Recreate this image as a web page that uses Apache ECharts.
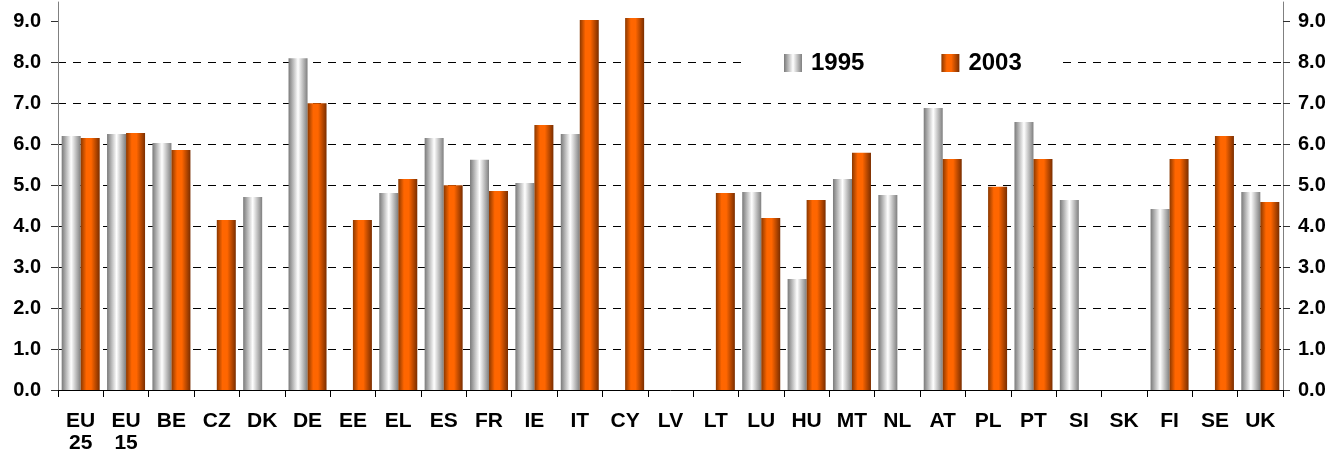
<!DOCTYPE html>
<html>
<head>
<meta charset="utf-8">
<script src="https://cdn.jsdelivr.net/npm/echarts@6/dist/echarts.min.js"></script>
<style>
html,body{margin:0;padding:0;background:#fff;}
#chart{width:1343px;height:455px;}
</style>
</head>
<body>
<div id="chart"></div>
<script>
const categories = ['EU\n25','EU\n15','BE','CZ','DK','DE','EE','EL','ES','FR','IE','IT','CY','LV','LT','LU','HU','MT','NL','AT','PL','PT','SI','SK','FI','SE','UK'];
const values1995 = [6.20,6.25,6.03,null,4.71,8.10,null,4.81,6.15,5.62,5.05,6.25,null,null,null,4.83,2.71,5.15,4.76,6.88,null,6.54,4.64,null,4.42,null,4.83];
const values2003 = [6.15,6.27,5.86,4.15,null,7.00,4.15,5.15,5.00,4.86,6.47,9.03,9.08,null,4.81,4.20,4.64,5.79,null,5.64,4.96,5.64,null,null,5.64,6.20,4.59];
const yTicks = [0,1,2,3,4,5,6,7,8,9];

const grayGrad = new echarts.graphic.LinearGradient(0,0,1,0,[
  {offset:0,color:'#7a7a7a'},{offset:0.5,color:'#ffffff'},{offset:1,color:'#7f7f7f'}]);
const orangeGrad = new echarts.graphic.LinearGradient(0,0,1,0,[
  {offset:0,color:'#8a3800'},{offset:0.3,color:'#ff6600'},{offset:0.55,color:'#ff6600'},{offset:1,color:'#7a2e00'}]);

const font = '"Liberation Sans", Arial, sans-serif';
const yMax = 9.47;
function yAxisCfg(pos, showSplit){
  return {
    type:'value', position:pos, min:0, max:yMax, interval:1,
    axisLine:{show:true, lineStyle:{color:'#808080', width:1}},
    axisTick:{show:true, length:7, customValues:yTicks, lineStyle:{color:'#303030'}},
    axisLabel:{customValues:yTicks, margin:pos==='left'?17:15, color:'#000', fontFamily:font, fontWeight:'bold', fontSize:20,
      formatter:v => Number.isInteger(v) ? v.toFixed(1) : ''},
    splitLine:{show:showSplit, showMaxLine:false, lineStyle:{color:'#000', type:[8,7], width:1}}
  };
}

const chart = echarts.init(document.getElementById('chart'), null, {renderer:'canvas'});
chart.setOption({
  animation:false,
  backgroundColor:'#fff',
  grid:{left:58, right:60, top:2, bottom:65, containLabel:false},
  legend:{
    left:742, top:46, orient:'horizontal', backgroundColor:'#fff',
    padding:[5,37,8,42], itemGap:77, itemWidth:18, itemHeight:18,
    textStyle:{fontFamily:font, fontWeight:'bold', fontSize:24, color:'#000', padding:[0,0,0,4]},
    data:[{name:'1995', icon:'rect'},{name:'2003', icon:'rect'}]
  },
  xAxis:{
    type:'category', data:categories,
    axisLine:{lineStyle:{color:'#000', width:1}},
    axisTick:{show:true, length:7, lineStyle:{color:'#000'}},
    axisLabel:{color:'#000', fontFamily:font, fontWeight:'bold', fontSize:21, lineHeight:22, margin:20, interval:0}
  },
  yAxis:[yAxisCfg('left', true), yAxisCfg('right', false)],
  series:[
    {name:'1995', type:'bar', data:values1995, barWidth:19, barGap:'0%', itemStyle:{color:grayGrad}},
    {name:'2003', type:'bar', data:values2003, barWidth:19, barGap:'0%', itemStyle:{color:orangeGrad}}
  ]
});
</script>
</body>
</html>
